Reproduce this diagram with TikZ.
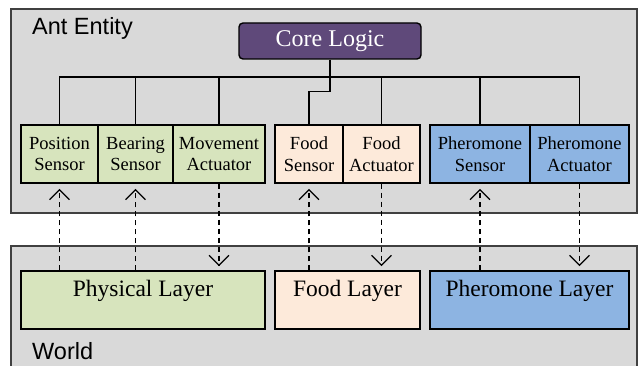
\documentclass[tikz,border=0pt]{standalone}
\usepackage{fontspec}
\setmainfont{Liberation Serif}
\newfontfamily\arialfont{Liberation Sans}
\definecolor{bggray}{HTML}{D9D9D9}
\definecolor{greenfill}{HTML}{D7E4BD}
\definecolor{peachfill}{HTML}{FDEADA}
\definecolor{bluefill}{HTML}{8DB4E2}
\definecolor{purplefill}{HTML}{5F497A}
\definecolor{frame}{HTML}{404040}
\tikzset{
  container/.style={fill=bggray, draw=frame, line width=1.1pt},
  unitbox/.style={draw=black, line width=1.4pt, minimum height=58pt, inner sep=0pt,
    align=center, font=\fontsize{18.5}{21.5}\selectfont},
  layerbox/.style={draw=black, line width=1.4pt, inner sep=0pt, text height=26pt, text depth=32pt,
    font=\fontsize{23.5}{26}\selectfont},
  corebox/.style={draw=black, line width=1.4pt, fill=purplefill, text=white, rounded corners=4pt,
    minimum width=182pt, minimum height=36pt, inner sep=0pt, font=\fontsize{24}{26}\selectfont},
  wire/.style={line width=1.1pt},
  sig/.style={line width=1.1pt, dash pattern=on 5pt off 4pt},
  uptip/.pic={\draw[solid, line width=1.2pt, line join=miter] (-10pt,-10pt) -- (0pt,0pt) -- (10pt,-10pt);},
  downtip/.pic={\draw[solid, line width=1.2pt, line join=miter] (-10pt,10pt) -- (0pt,0pt) -- (10pt,10pt);},
  grouplabel/.style={anchor=base west, inner sep=0pt, font=\arialfont\fontsize{23.5}{26}\selectfont}
}
\begin{document}
\begin{tikzpicture}[x=1pt, y=-1pt]
\useasboundingbox (0,0) rectangle (638,366);
\clip (0,0) rectangle (638,366);
% containers
\draw[container] (11,9) rectangle (637,213);
\draw[container] (11,246) rectangle (637,380);
\node[grouplabel] (antlbl) at (32,35) {Ant Entity};
\node[grouplabel] (worldlbl) at (32,360) {World};
% core logic
\node[corebox] (core) at (330,41) {Core Logic};
% sensors and actuators
\node[unitbox, fill=greenfill, minimum width=77pt] (ps) at (59.5,154) {Position\\Sensor};
\node[unitbox, fill=greenfill, minimum width=75pt] (bs) at (135.5,154) {Bearing\\Sensor};
\node[unitbox, fill=greenfill, minimum width=92pt] (ma) at (219,154) {Movement\\Actuator};
\node[unitbox, fill=peachfill, minimum width=68pt] (fs) at (309,154) {Food\\Sensor};
\node[unitbox, fill=peachfill, minimum width=77pt] (fa) at (381.5,154) {Food\\Actuator};
\node[unitbox, fill=bluefill, minimum width=100pt] (phs) at (480,154) {Pheromone\\Sensor};
\node[unitbox, fill=bluefill, minimum width=99pt] (pha) at (579.5,154) {Pheromone\\Actuator};
% layers
\node[layerbox, fill=greenfill, minimum width=244pt] (phys) at (143,300) {Physical Layer};
\node[layerbox, fill=peachfill, minimum width=145pt] (food) at (347.5,300) {Food Layer};
\node[layerbox, fill=bluefill, minimum width=199pt] (pher) at (529.5,300) {Pheromone Layer};
% bus
\coordinate (bus) at (0,77);
\draw[wire] (ps.north) -- (ps.north |- bus) -- (pha.north |- bus) -- (pha.north);
\draw[wire] (bs.north) -- (bs.north |- bus);
\draw[wire] (ma.north) -- (ma.north |- bus);
\draw[wire] (fa.north) -- (fa.north |- bus);
\draw[wire] (phs.north) -- (phs.north |- bus);
\draw[wire] (core.south) -- ++(0,32) -| (fs.north);
% signals (sensor inputs, upward)
\draw[sig] (ps.south |- phys.north) -- ([yshift=-6pt]ps.south) pic {uptip};
\draw[sig] (bs.south |- phys.north) -- ([yshift=-6pt]bs.south) pic {uptip};
\draw[sig] (fs.south |- food.north) -- ([yshift=-6pt]fs.south) pic {uptip};
\draw[sig] (phs.south |- pher.north) -- ([yshift=-6pt]phs.south) pic {uptip};
% signals (actuator outputs, downward)
\draw[sig] (ma.south) -- ([yshift=5pt]ma.south |- phys.north) pic {downtip};
\draw[sig] (fa.south) -- ([yshift=5pt]fa.south |- food.north) pic {downtip};
\draw[sig] (pha.south) -- ([yshift=5pt]pha.south |- pher.north) pic {downtip};
\end{tikzpicture}
\end{document}
